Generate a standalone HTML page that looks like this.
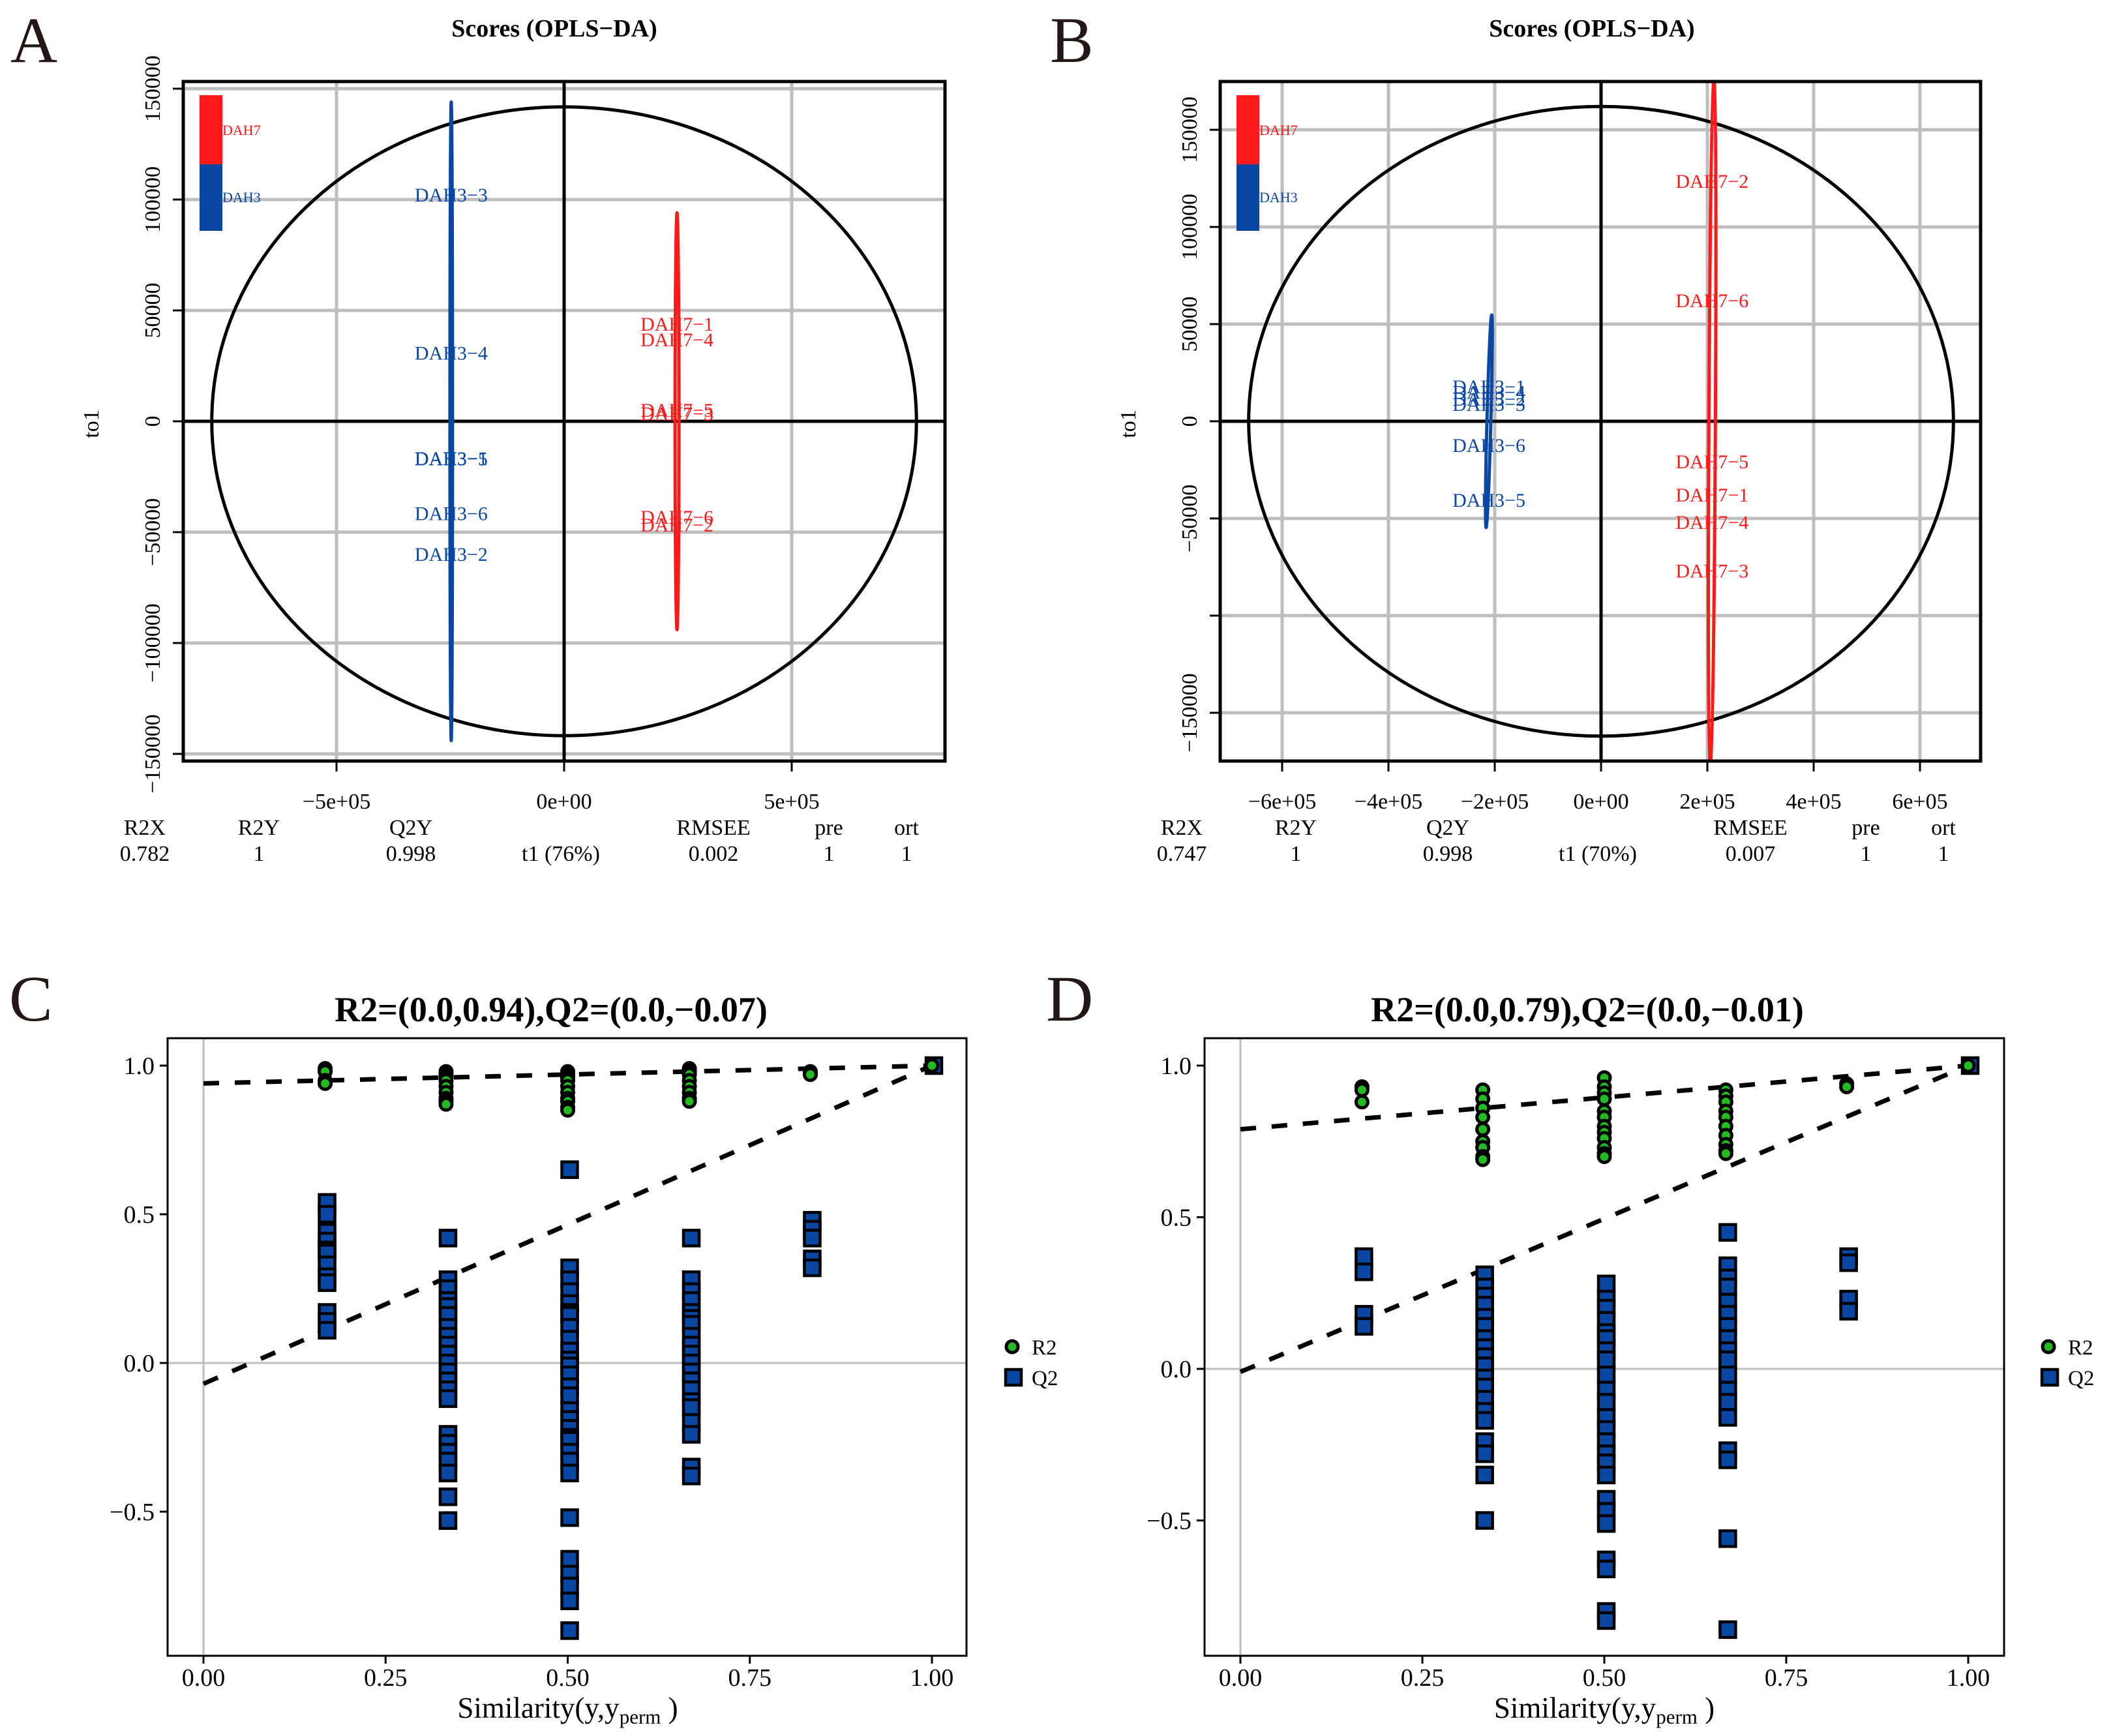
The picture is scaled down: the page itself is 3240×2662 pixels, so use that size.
<!DOCTYPE html>
<html><head><meta charset="utf-8"><style>
html,body{margin:0;padding:0;background:#fff}
svg{display:block}
text{font-family:"Liberation Serif",serif}
</style></head><body>
<svg id="fig" xmlns="http://www.w3.org/2000/svg" width="3240" height="2662" viewBox="0 0 3240 2662">
<rect width="3240" height="2662" fill="#fff"/>
</svg>
<script>
// ---------- Panel A data ----------
const aBlueLabels = ["DAH3-3","DAH3-4","DAH3-1","DAH3-5","DAH3-6","DAH3-2"];
const aBlueY = [102000, 30700, -16700, -16900, -41600, -60000];
const aRedLabels = ["DAH7-1","DAH7-4","DAH7-5","DAH7-3","DAH7-6","DAH7-2"];
const aRedY = [43800, 36800, 5000, 3400, -43300, -46700];
const aGroupX = [-248000, 248000];
const aGroupHalfH = [144000, 94000];
const aEllipse = [774000, 141800];
const aXTicks = [-500000, 0, 500000];
const aXTickLabels = ["\u22125e+05","0e+00","5e+05"];
const aYTicks = [150000, 100000, 50000, 0, -50000, -100000, -150000];
const aYTickLabels = ["150000","100000","50000","0","\u221250000","\u2212100000","\u2212150000"];
const aStats = ["0.782","1","0.998","0.002","1","1"];
const aT1 = "t1 (76%)";
// ---------- Panel B data ----------
const bBlueLabels = ["DAH3-1","DAH3-4","DAH3-2","DAH3-3","DAH3-6","DAH3-5"];
const bBlueY = [17800, 15000, 11400, 8700, -12400, -40600];
const bRedLabels = ["DAH7-2","DAH7-6","DAH7-5","DAH7-1","DAH7-4","DAH7-3"];
const bRedY = [123500, 62000, -20800, -38000, -52000, -77000];
const bGroupX = [-211000, 209000];
const bGroupHalfH = [54700, 185000];
const bEllipse = [663000, 162000];
const bXTicks = [-600000,-400000,-200000,0,200000,400000,600000];
const bXTickLabels = ["\u22126e+05","\u22124e+05","\u22122e+05","0e+00","2e+05","4e+05","6e+05"];
const bYTicks = [150000, 100000, 50000, 0, -50000, -100000, -150000];
const bYTickLabels = ["150000","100000","50000","0","\u221250000","","\u2212150000"];
const bStats = ["0.747","1","0.998","0.007","1","1"];
const bT1 = "t1 (70%)";
// ---------- Panel C data ----------
const cR2x = [0.167,0.167,0.167,0.167, 0.333,0.333,0.333,0.333,0.333,0.333,0.333,0.333,0.333, 0.5,0.5,0.5,0.5,0.5,0.5,0.5,0.5,0.5,0.5, 0.667,0.667,0.667,0.667,0.667,0.667,0.667,0.667, 0.833,0.833,0.833, 1];
const cR2y = [0.99,0.98,0.95,0.94, 0.98,0.97,0.96,0.95,0.93,0.91,0.89,0.88,0.87, 0.98,0.97,0.96,0.95,0.93,0.91,0.89,0.88,0.86,0.85, 0.99,0.98,0.97,0.95,0.93,0.91,0.89,0.88, 0.98,0.97,0.97, 1];
const cQ2_167 = [0.54,0.5,0.44,0.41,0.38,0.37,0.33,0.29,0.27,0.17,0.14,0.11];
const cQ2_333 = [0.42,0.28,0.25,0.21,0.19,0.16,0.12,0.09,0.06,0.03,0.0,-0.03,-0.06,-0.09,-0.12,-0.24,-0.27,-0.3,-0.33,-0.37,-0.45,-0.53];
const cQ2_500 = [0.65,0.32,0.28,0.24,0.2,0.17,0.16,0.12,0.08,0.04,0.01,-0.01,-0.04,-0.08,-0.11,-0.16,-0.19,-0.22,-0.25,-0.26,-0.3,-0.33,-0.37,-0.52,-0.66,-0.71,-0.75,-0.8,-0.9];
const cQ2_667 = [0.42,0.28,0.24,0.21,0.17,0.15,0.13,0.09,0.06,0.03,0.0,-0.03,-0.06,-0.09,-0.13,-0.15,-0.2,-0.24,-0.35,-0.38];
const cQ2_833 = [0.48,0.45,0.42,0.35,0.32];
const cQ2_1 = [1];
const cIntercepts = [0.94, -0.07];
const cTitle = "R2=(0.0,0.94),Q2=(0.0,\u22120.07)";
// ---------- Panel D data ----------
const dR2x = [0.167,0.167,0.167, 0.333,0.333,0.333,0.333,0.333,0.333,0.333,0.333,0.333, 0.5,0.5,0.5,0.5,0.5,0.5,0.5,0.5,0.5,0.5,0.5,0.5, 0.667,0.667,0.667,0.667,0.667,0.667,0.667,0.667,0.667,0.667, 0.833,0.833, 1];
const dR2y = [0.93,0.92,0.88, 0.92,0.89,0.86,0.83,0.79,0.75,0.73,0.7,0.69, 0.96,0.93,0.91,0.89,0.85,0.83,0.8,0.78,0.76,0.73,0.71,0.7, 0.92,0.9,0.88,0.85,0.83,0.8,0.77,0.74,0.72,0.71, 0.94,0.93, 1];
const dQ2_167 = [0.37,0.32,0.18,0.14];
const dQ2_333 = [0.31,0.27,0.24,0.21,0.17,0.14,0.1,0.07,0.04,0.01,-0.03,-0.06,-0.1,-0.14,-0.17,-0.24,-0.28,-0.35,-0.5];
const dQ2_500 = [0.28,0.23,0.2,0.16,0.12,0.1,0.06,0.03,-0.02,-0.07,-0.11,-0.16,-0.2,-0.24,-0.28,-0.31,-0.35,-0.43,-0.47,-0.51,-0.63,-0.66,-0.8,-0.83];
const dQ2_667 = [0.45,0.34,0.3,0.27,0.22,0.18,0.14,0.1,0.06,0.03,-0.02,-0.07,-0.11,-0.16,-0.27,-0.3,-0.56,-0.86];
const dQ2_833 = [0.37,0.35,0.23,0.19];
const dQ2_1 = [1];
const dIntercepts = [0.79, -0.01];
const dTitle = "R2=(0.0,0.79),Q2=(0.0,\u22120.01)";
const permX = [0.167,0.333,0.5,0.667,0.833,1];
const simTicks = [0,0.25,0.5,0.75,1];
const simTickLabels = ["0.00","0.25","0.50","0.75","1.00"];
const valTicks = [1,0.5,0,-0.5];
const valTickLabels = ["1.0","0.5","0.0","\u22120.5"];

const NS="http://www.w3.org/2000/svg";
const svg=document.getElementById('fig');
function mk(tag,attrs,parent,txt){const e=document.createElementNS(NS,tag);for(const k in attrs)e.setAttribute(k,attrs[k]);if(txt!==undefined)e.textContent=txt;(parent||svg).appendChild(e);return e;}
function lin(d0,d1,r0,r1){return v=>r0+(v-d0)*(r1-r0)/(d1-d0);}
const RED="#ff1a1a", BLUE="#0a47a2";

function scorePanel(o){
  const g=mk('g',{});
  
  
  const X=lin(0,100000,o.x0,o.x0+o.px1e5), Y=lin(0,50000,o.y0,o.y0-o.py5e4);
  const clipId=o.name+'-clip';
  const cp=mk('clipPath',{id:clipId},g); mk('rect',{x:o.L,y:o.T,width:o.R-o.L,height:o.B-o.T},cp);
  const inner=mk('g',{'clip-path':'url(#'+clipId+')'},g);
  o.xt.forEach(v=>{ if(v!==0){const l=mk('line',{x1:X(v),x2:X(v),y1:o.T,y2:o.B,stroke:'#bebebe','stroke-width':5},inner);}});
  o.yt.forEach(v=>{ if(v!==0){const l=mk('line',{x1:o.L,x2:o.R,y1:Y(v),y2:Y(v),stroke:'#bebebe','stroke-width':5},inner);}});
  mk('line',{x1:X(0),x2:X(0),y1:o.T,y2:o.B,stroke:'#000','stroke-width':5},inner);
  mk('line',{x1:o.L,x2:o.R,y1:Y(0),y2:Y(0),stroke:'#000','stroke-width':5},inner);
  const el=mk('ellipse',{cx:X(0),cy:Y(0),rx:X(o.ell[0])-X(0),ry:Y(0)-Y(o.ell[1]),fill:'none',stroke:'#000','stroke-width':5},inner);
  
  
  const cols=[BLUE,RED];
  [0,1].forEach(i=>{
    const cx=X(o.gx[i]), ry=Y(0)-Y(o.gh[i]);
    const ge=mk('ellipse',{cx:cx,cy:Y(0),rx:o.grx[i],ry:ry,fill:'none',stroke:cols[i],'stroke-width':5,transform:'rotate('+o.tilt[i]+' '+cx+' '+Y(0)+')'},inner);
    
    
  });
  o.bl.forEach((s,i)=>{const t=mk('text',{x:X(o.gx[0]),y:Y(o.by[i])+10,'font-size':30,fill:BLUE,'text-anchor':'middle'},inner,s.replace('-','\u2212'));});
  o.rl.forEach((s,i)=>{const t=mk('text',{x:X(o.gx[1]),y:Y(o.ry[i])+10,'font-size':30,fill:RED,'text-anchor':'middle'},inner,s.replace('-','\u2212'));});
  const lr=mk('rect',{x:o.L+25,y:146,width:35,height:106,fill:RED},g);
  const lb=mk('rect',{x:o.L+25,y:252,width:35,height:102,fill:BLUE},g);
  const t1=mk('text',{x:o.L+60,y:207,'font-size':22,fill:RED},g,'DAH7');
  const t2=mk('text',{x:o.L+60,y:310,'font-size':22,fill:BLUE},g,'DAH3');
  const fr=mk('rect',{x:o.L,y:o.T,width:o.R-o.L,height:o.B-o.T,fill:'none',stroke:'#000','stroke-width':5},g);
  o.xt.forEach((v,i)=>{mk('line',{x1:X(v),x2:X(v),y1:o.B,y2:o.B+16,stroke:'#000','stroke-width':3},g);
    const t=mk('text',{x:X(v),y:1240,'font-size':34,'text-anchor':'middle'},g,o.xtl[i]);});
  o.yt.forEach((v,i)=>{mk('line',{x1:o.L-16,x2:o.L,y1:Y(v),y2:Y(v),stroke:'#000','stroke-width':3},g);
    if(o.ytl[i]){const tx=o.L-36;const t=mk('text',{x:tx,y:Y(v),'font-size':34,'text-anchor':'middle',transform:'rotate(-90 '+tx+' '+Y(v)+')'},g,o.ytl[i]);}});
  const yt=mk('text',{x:o.L-130,y:650,'font-size':34,'text-anchor':'middle',transform:'rotate(-90 '+(o.L-130)+' 650)'},g,'to1');
  const ti=mk('text',{x:o.tx,y:56,'font-size':38,'font-weight':'bold','text-anchor':'middle'},g,'Scores (OPLS\u2212DA)');
  const le=mk('text',{x:o.lx,y:95,'font-size':100,fill:'#231815'},g,o.letter);
  const hd=["R2X","R2Y","Q2Y","RMSEE","pre","ort"];
  hd.forEach((h,i)=>{const t=mk('text',{x:o.sx[i],y:1280,'font-size':34,'text-anchor':'middle'},g,h);
    const v=mk('text',{x:o.sx[i],y:1320,'font-size':34,'text-anchor':'middle'},g,o.stats[i]);});
  const tt=mk('text',{x:X(0)-5,y:1320,'font-size':34,'text-anchor':'middle'},g,o.t1);
}

scorePanel({name:'panel-a',letter:'A',lx:16,tx:850,L:281,R:1449,T:125,B:1167,x0:865,px1e5:69.8,y0:646,py5e4:170,
  xt:aXTicks,xtl:aXTickLabels,yt:aYTicks,ytl:aYTickLabels,ell:aEllipse,gx:aGroupX,gh:aGroupHalfH,grx:[2,3],tilt:[0,0],
  bl:aBlueLabels,by:aBlueY,rl:aRedLabels,ry:aRedY,stats:aStats,t1:aT1,sx:[222,397,630,1094,1271,1390]});
scorePanel({name:'panel-b',letter:'B',lx:1610,tx:2441,L:1871,R:3037,T:125,B:1167,x0:2455,px1e5:81.5,y0:646,py5e4:149,
  xt:bXTicks,xtl:bXTickLabels,yt:bYTicks,ytl:bYTickLabels,ell:bEllipse,gx:bGroupX,gh:bGroupHalfH,grx:[3,5],tilt:[1.5,0.3],
  bl:bBlueLabels,by:bBlueY,rl:bRedLabels,ry:bRedY,stats:bStats,t1:bT1,sx:[1812,1987,2220,2684,2861,2980]});

function permPanel(o){
  const g=mk('g',{});
  
  
  const X=lin(0,1,o.x0,o.x1), Y=lin(0,1,o.y0,o.y1);
  mk('line',{x1:X(0),x2:X(0),y1:o.T,y2:o.B,stroke:'#bebebe','stroke-width':3},g);
  mk('line',{x1:o.L,x2:o.R,y1:Y(0),y2:Y(0),stroke:'#bebebe','stroke-width':3},g);
  o.ic.forEach((b,i)=>{const l=mk('line',{x1:X(0),y1:Y(b),x2:X(1),y2:Y(1),stroke:'#000','stroke-width':7,'stroke-dasharray':'24 24'},g);
    });
  o.q.forEach((arr,j)=>arr.forEach(v=>{const r=mk('rect',{x:X(permX[j])+3-12,y:Y(v)-12,width:24,height:24,fill:BLUE,stroke:'#000','stroke-width':4.5},g);
    }));
  o.rx.forEach((xv,i)=>{const c=mk('circle',{cx:X(xv),cy:Y(o.ry[i]),r:9,fill:'#22bb22',stroke:'#000','stroke-width':5},g);
    });
  const fr=mk('rect',{x:o.L,y:o.T,width:o.R-o.L,height:o.B-o.T,fill:'none',stroke:'#000','stroke-width':3},g);
  simTicks.forEach((v,i)=>{mk('line',{x1:X(v),x2:X(v),y1:o.B,y2:o.B+12,stroke:'#000','stroke-width':3},g);
    const t=mk('text',{x:X(v),y:2585,'font-size':38,'text-anchor':'middle'},g,simTickLabels[i]);});
  valTicks.forEach((v,i)=>{mk('line',{x1:o.L-12,x2:o.L,y1:Y(v),y2:Y(v),stroke:'#000','stroke-width':3},g);
    const t=mk('text',{x:o.L-20,y:Y(v)+13,'font-size':38,'text-anchor':'end'},g,valTickLabels[i]);});
  const xt=mk('text',{x:X(0.5),y:2634,'font-size':45,'text-anchor':'middle'},g);
  mk('tspan',{},xt,'Similarity(y,y');mk('tspan',{'font-size':31,dy:9},xt,'perm');mk('tspan',{dy:-9},xt,' )');
  const ti=mk('text',{x:o.tx,y:1566,'font-size':54,'font-weight':'bold','text-anchor':'middle'},g,o.title);
  const le=mk('text',{x:o.lx,y:1565,'font-size':100,fill:'#231815'},g,o.letter);
  const lc=mk('circle',{cx:o.legx,cy:2065,r:9,fill:'#22bb22',stroke:'#000','stroke-width':5},g);
  const lq=mk('rect',{x:o.legx-10,y:2100,width:24,height:24,fill:BLUE,stroke:'#000','stroke-width':4.5},g);
  const l1=mk('text',{x:o.legx+30,y:2077,'font-size':33},g,'R2');
  const l2=mk('text',{x:o.legx+30,y:2124,'font-size':33},g,'Q2');
}
permPanel({name:'panel-c',letter:'C',lx:14,tx:845,L:257,R:1482,T:1592,B:2539,x0:312,x1:1429,y0:2090,y1:1634,
  ic:cIntercepts,q:[cQ2_167,cQ2_333,cQ2_500,cQ2_667,cQ2_833,cQ2_1],rx:cR2x,ry:cR2y,title:cTitle,legx:1552});
permPanel({name:'panel-d',letter:'D',lx:1604,tx:2434,L:1847,R:3073,T:1592,B:2539,x0:1902,x1:3018,y0:2099,y1:1634,
  ic:dIntercepts,q:[dQ2_167,dQ2_333,dQ2_500,dQ2_667,dQ2_833,dQ2_1],rx:dR2x,ry:dR2y,title:dTitle,legx:3141});
</script>
</body></html>
